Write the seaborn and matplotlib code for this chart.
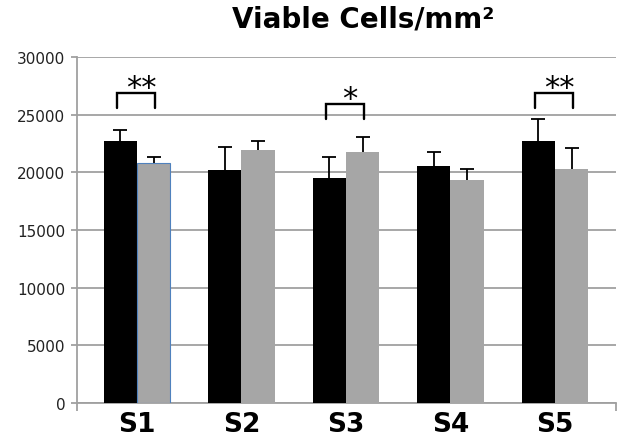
import matplotlib
matplotlib.use("Agg")
import matplotlib.pyplot as plt
import pandas as pd
import seaborn as sns

sites = ["S1", "S2", "S3", "S4", "S5"]
groups = ["Group A", "Group B"]
means_a = [22750, 20200, 19500, 20580, 22750]
means_b = [20800, 21950, 21800, 19370, 20330]
err_a = [920, 1970, 1830, 1160, 1850]
err_b = [500, 790, 1300, 920, 1810]

sig_sites = ["S1", "S3", "S5"]
sig_top = [26850, 25930, 26900]
sig_leg = [25550, 24620, 25550]
sig_labels = ["**", "*", "**"]

df = pd.DataFrame({
    "site": sites * 2,
    "group": [groups[0]] * 5 + [groups[1]] * 5,
    "cells": means_a + means_b,
    "err": err_a + err_b,
})

sns.set_style("white")
plt.rcParams["font.family"] = ["DejaVu Sans"]

fig = plt.figure(figsize=(6.24, 4.39), dpi=100)
ax = fig.add_axes([77 / 624, 1 - 404 / 439, 539 / 624, 346 / 439])

sns.barplot(data=df, x="site", y="cells", hue="group", order=sites, hue_order=groups,
            palette=["black", "#a6a6a6"], saturation=1, width=0.64, errorbar=None,
            legend=False, ax=ax, zorder=3)

# one-sided error bars at each bar centre (upper cap only)
for cont, grp in zip(ax.containers, groups):
    sub = df[df["group"] == grp].set_index("site").loc[sites]
    xs = [p.get_x() + p.get_width() / 2 for p in cont]
    eb = ax.errorbar(xs, sub["cells"], yerr=[[0] * len(xs), sub["err"]], fmt="none",
                     ecolor="black", elinewidth=1.3, capsize=5, capthick=1.3, zorder=4)
    eb[1][0].remove()
    for p in cont:
        p.set_linewidth(0)

# thin blue outline on the first grey bar
first_b = ax.containers[1][0]
first_b.set_edgecolor("#4f81bd")
first_b.set_linewidth(0.8)

# significance brackets
pos = {s: i for i, s in enumerate(sites)}
for s, top, leg, lab in zip(sig_sites, sig_top, sig_leg, sig_labels):
    x0 = pos[s] - 0.19
    x1 = pos[s] + 0.17
    ax.plot([x0, x0, x1, x1], [leg, top, top, leg], color="black", lw=1.7,
            solid_joinstyle="miter", zorder=5, clip_on=False)
    ax.text(pos[s] + 0.04, top - 250, lab, ha="center", va="baseline",
            fontsize=22, color="black", zorder=5)

ax.set_xlim(-0.574, 4.584)
ax.set_ylim(0, 30000)
ax.set_yticks(range(0, 30001, 5000))
ax.yaxis.grid(True, color="#a0a0a0", lw=1.3, zorder=0)
ax.set_axisbelow(True)
ax.set_xlabel("")
ax.set_ylabel("")

for side in ["top", "right"]:
    ax.spines[side].set_visible(False)
for side in ["left", "bottom"]:
    ax.spines[side].set_color("#a0a0a0")
    ax.spines[side].set_linewidth(1.3)

ax.tick_params(axis="y", which="major", left=True, length=4.5, width=1.3, color="#a0a0a0",
               labelsize=11, labelcolor="#222222", pad=4)
ax.tick_params(axis="x", which="major", bottom=False, labelsize=19, labelcolor="black", pad=2)
ax.set_xticks([-0.574, 4.584], minor=True)
ax.tick_params(axis="x", which="minor", bottom=True, length=6, width=1.3, color="#a0a0a0")
for t in ax.get_xticklabels():
    t.set_fontweight("bold")

fig.text(0.582, 1 - 28 / 439, "Viable Cells/mm²", ha="center", va="baseline",
         fontsize=20, fontweight="bold", color="black")

fig.savefig("out.png", dpi=100)
